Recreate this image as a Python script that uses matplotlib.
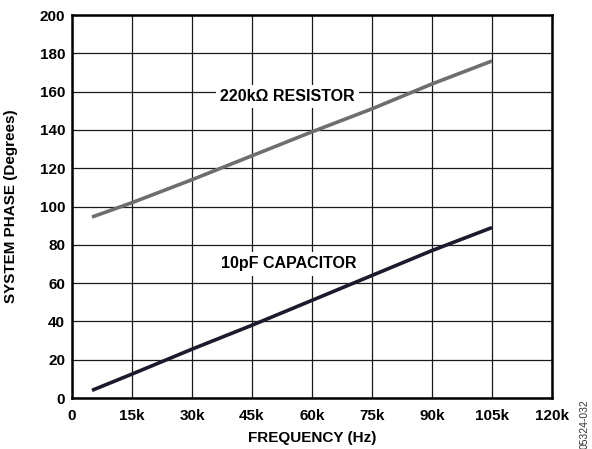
import matplotlib
matplotlib.use("Agg")
import matplotlib.pyplot as plt
import numpy as np

plt.rcParams['font.family'] = ['Liberation Sans', 'DejaVu Sans']
plt.rcParams['font.weight'] = 'bold'

# frequency in kHz
freq = [5, 15, 30, 45, 60, 75, 90, 105]
resistor = [94.5, 102, 114, 126.5, 139, 151, 164, 176]
capacitor = [4, 12.5, 25.5, 38, 51, 64, 77, 89]

xticks = [0, 15, 30, 45, 60, 75, 90, 105, 120]
xticklabels = ["0", "15k", "30k", "45k", "60k", "75k", "90k", "105k", "120k"]
yticks = np.arange(0, 201, 20)

fig = plt.figure(figsize=(5.92, 4.49), dpi=100)
ax = fig.add_axes([72/592, 1 - 398/449, 480/592, 383/449])

ax.plot(freq, resistor, color="#6e6e6e", lw=2.6, solid_capstyle="butt", zorder=3)
ax.plot(freq, capacitor, color="#1c1a2c", lw=2.6, solid_capstyle="butt", zorder=3)

ax.set_xlim(0, 120)
ax.set_ylim(0, 200)
ax.set_xticks(xticks)
ax.set_xticklabels(xticklabels)
ax.set_yticks(yticks)
ax.tick_params(length=0, labelsize=11)
ax.tick_params(axis="x", pad=8)
ax.tick_params(axis="y", pad=5)
for lbl in ax.get_xticklabels() + ax.get_yticklabels():
    lbl.set_fontweight("bold")
ax.grid(True, color="#1a1a1a", lw=0.9)
ax.set_axisbelow(True)
for s in ax.spines.values():
    s.set_linewidth(1.8)

ax.set_xlabel("FREQUENCY (Hz)", fontsize=11, fontweight="bold", va="center")
ax.xaxis.set_label_coords(0.5, (398 - 438) / 383)
ax.set_ylabel("SYSTEM PHASE (Degrees)", fontsize=11, fontweight="bold", va="center")
ax.yaxis.set_label_coords((11.5 - 72) / 480, 0.5)

box = dict(facecolor="white", edgecolor="none", pad=3)
ax.text(53.9, 157.5, "220kΩ RESISTOR", ha="center", va="center",
        fontsize=11.5, fontweight="bold", bbox=box, zorder=4)
ax.text(54.2, 70, "10pF CAPACITOR", ha="center", va="center",
        fontsize=11.5, fontweight="bold", bbox=box, zorder=4)

fig.text(585/592, 1 - 424/449, "05324-032", rotation=90, ha="center", va="center",
         fontsize=7.5, fontweight="normal", color="#333333")

fig.savefig("out.png", dpi=100)
